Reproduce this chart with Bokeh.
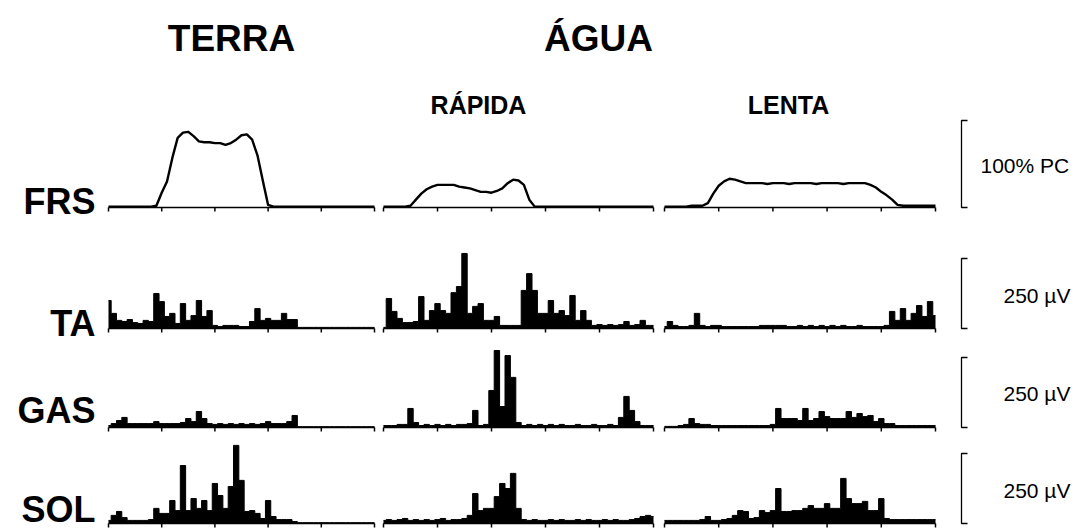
from bokeh.plotting import figure
from bokeh.models import Range1d, Label
from bokeh.embed import file_html
from bokeh.resources import INLINE

# ---------------- data ----------------
conditions = ["TERRA", "RÁPIDA", "LENTA"]
rows = ["FRS", "TA", "GAS", "SOL"]
scale_labels = ["100% PC", "250 µV", "250 µV", "250 µV"]
scale_values = [100, 250, 250, 250]          # height of each calibration bar (row units)
ticks_t = [0, 20, 40, 60, 80, 100]           # % of the trial
sample_t = list(range(0, 101, 2))            # sample times, % of the trial

# foot-switch (FRS), % of pressure at contact
frs_terra = [1, 1, 1, 1, 1, 1, 1, 1, 1,
             2, 17, 30, 57, 80, 86, 87, 82, 76, 75, 75, 74, 74, 72, 74, 78, 83, 84, 78, 60, 31, 3,
             1, 1, 1, 1, 1, 1, 1, 1, 1, 1, 1, 1, 1, 1, 1, 1, 1, 1, 1, 1]
frs_rapida = [1, 1, 1, 1, 1,
              2, 9, 16, 21, 24, 26, 26, 26, 26, 24, 23, 22, 20, 18, 18, 17, 19, 22, 28, 32, 31, 26, 9, 1,
              1, 1, 1, 1, 1, 1, 1, 1, 1, 1, 1, 1, 1, 1, 1, 1, 1, 1, 1, 1, 1, 1]
frs_lenta = [1, 1, 1, 1, 1, 2, 2, 2,
             5, 16, 25, 30, 33, 32, 30, 28,
             28, 28, 28, 27, 28, 28, 28, 27, 28, 28, 28, 28, 27, 28, 28, 28, 28, 27, 28, 28, 28, 28,
             26, 23, 18, 14, 9, 3,
             2, 2, 2, 2, 2, 2, 2]

# EMG envelopes, µV
ta_terra = [100, 54, 29, 25, 32, 21, 18, 29, 25, 125, 96, 43, 54, 18, 89, 29, 46, 100, 43, 64,
            11, 7, 11, 11, 11, 7, 7, 25, 71, 29, 36, 29, 29, 54, 32, 32,
            4, 4, 4, 4, 4, 4, 4, 4, 4, 4, 4, 4, 4, 4, 4]
ta_rapida = [4, 107, 61, 36, 21, 21, 25, 114, 29, 64, 89, 64, 54, 128, 150, 268, 54, 79, 89, 29,
             29, 43, 11, 11, 11, 11, 136, 196, 136, 54, 54, 100, 54, 64, 46, 118, 29, 64, 29, 11,
             14, 11, 14, 11, 14, 25, 11, 14, 29, 11, 11]
ta_lenta = [7, 25, 11, 7, 7, 11, 54, 11, 7, 11, 11, 7, 7, 7, 7, 7, 7, 7, 11, 11,
            11, 11, 11, 7, 7, 11, 7, 11, 7, 11, 7, 11, 7, 11, 7, 7, 11, 7, 7, 7,
            7, 11, 61, 29, 71, 29, 54, 82, 43, 96, 46]
gas_terra = [7, 14, 25, 36, 14, 14, 14, 14, 14, 21, 14, 14, 14, 14, 18, 32, 21, 57, 32, 14,
             11, 14, 11, 14, 11, 14, 11, 14, 11, 14, 21, 14, 14, 14, 21, 43,
             3, 3, 3, 3, 3, 3, 3, 3, 3, 3, 3, 3, 3, 3, 3]
gas_rapida = [7, 7, 7, 11, 11, 68, 18, 7, 11, 7, 11, 7, 11, 7, 11, 11, 14, 61, 7, 11,
              132, 275, 75, 257, 179, 18, 7, 11, 7, 11, 7, 11, 7, 11, 7, 7, 11, 7, 7, 11,
              7, 7, 11, 7, 36, 111, 61, 21, 7, 7, 7]
gas_lenta = [4, 4, 4, 7, 11, 32, 14, 11, 11, 7, 7, 7, 7, 7, 7, 7, 7, 7, 7, 7,
             11, 68, 32, 32, 32, 25, 68, 25, 32, 57, 39, 32, 32, 32, 57, 36, 50, 39, 43, 21,
             32, 14, 14, 7, 7, 7, 7, 7, 7, 7, 7]
sol_terra = [11, 29, 43, 21, 11, 11, 11, 11, 14, 54, 36, 36, 82, 46, 207, 46, 89, 54, 82, 46,
             143, 100, 54, 132, 279, 154, 43, 46, 36, 18, 82, 25, 14, 14, 14, 7,
             3, 3, 3, 3, 3, 3, 3, 3, 3, 3, 3, 3, 3, 3, 3]
sol_rapida = [11, 14, 11, 14, 18, 11, 14, 11, 14, 11, 14, 18, 11, 14, 14,
              18, 29, 107, 46, 54, 54, 96, 143, 125, 179, 54, 14,
              11, 14, 11, 11, 14, 11, 14, 11, 11, 14, 11, 14, 11, 11, 14, 11, 14, 11, 11, 14, 18,
              25, 29, 25]
sol_lenta = [11, 11, 11, 11, 11, 11, 11, 14, 25, 11, 11, 14, 18, 29, 46, 43, 18, 21, 46, 39,
             46, 125, 43, 43, 46, 46, 54, 64, 54, 54, 71, 54, 54, 161, 89, 71, 71, 79, 46, 46,
             89, 18, 14, 14, 14, 14, 14, 14, 14, 14, 14]

traces = [
    [frs_terra, frs_rapida, frs_lenta],
    [ta_terra, ta_rapida, ta_lenta],
    [gas_terra, gas_rapida, gas_lenta],
    [sol_terra, sol_rapida, sol_lenta],
]

# ---------------- layout (pixels) ----------------
W, H = 1092, 529
COL_LEFT = [108, 383, 664]
COL_W = [266, 270, 271]
ROW_BASE = [207, 328, 427, 523]
ROW_K = [0.87, 0.28, 0.28, 0.28]   # px per row unit
TICK_PX = 4
BAR_X = 961
FONT = "Liberation Sans"

p = figure(width=W, height=H, x_range=Range1d(0, W), y_range=Range1d(H, 0),
           output_backend="svg", toolbar_location=None, min_border=0,
           x_axis_location=None, y_axis_location=None)
p.grid.grid_line_color = None
p.outline_line_color = None
p.background_fill_color = "white"
p.border_fill_color = "white"

for c in range(3):
    L, w = COL_LEFT[c], COL_W[c]
    p.extra_x_ranges[f"c{c}"] = Range1d(-L * 100 / w, (W - L) * 100 / w)
for r in range(4):
    B, k = ROW_BASE[r], ROW_K[r]
    p.extra_y_ranges[f"r{r}"] = Range1d((B - H) / k, B / k)

for r in range(4):
    k = ROW_K[r]
    for c in range(3):
        xr, yr = f"c{c}", f"r{r}"
        vals = traces[r][c]
        # baseline and ticks
        p.segment(x0=[0], y0=[0], x1=[100], y1=[0], line_color="black", line_width=1.5,
                  x_range_name=xr, y_range_name=yr)
        p.segment(x0=ticks_t, y0=[0] * len(ticks_t), x1=ticks_t, y1=[-TICK_PX / k] * len(ticks_t),
                  line_color="black", line_width=1.5, x_range_name=xr, y_range_name=yr)
        if r == 0:
            p.line(sample_t, vals, line_color="black", line_width=2.4, line_join="round",
                   x_range_name=xr, y_range_name=yr)
        else:
            p.varea_step(x=sample_t, y1=[0] * len(vals), y2=vals, step_mode="center",
                         fill_color="black", x_range_name=xr, y_range_name=yr)
            p.step(sample_t, vals, mode="center", line_color="black", line_width=1.0,
                   x_range_name=xr, y_range_name=yr)
    # calibration bracket
    top = scale_values[r]
    p.line([BAR_X + 6, BAR_X, BAR_X, BAR_X + 6], [top, top, 0, 0], line_color="black",
           line_width=1.3, y_range_name=f"r{r}")

def add_text(x, y, txt, size, bold=True, align="left"):
    p.add_layout(Label(x=x, y=y, text=txt, text_font=FONT, text_font_size=f"{size}px",
                       text_font_style="bold" if bold else "normal", text_color="black",
                       text_align=align, text_baseline="alphabetic"))

# titles (y = visual centre of the capitals)
add_text(231, 38, conditions[0], 37, align="center")
add_text(598, 38, "ÁGUA", 37, align="center")
add_text(478, 104, conditions[1], 25, align="center")
add_text(788, 104, conditions[2], 25, align="center")

# row labels
row_label_y = [201, 323, 410, 509]
for r in range(4):
    add_text(95, row_label_y[r], rows[r], 36, align="right")

# scale labels
scale_label_pos = [(980, 165), (1003, 295), (1003, 393), (1003, 490)]
for r in range(4):
    add_text(scale_label_pos[r][0], scale_label_pos[r][1], scale_labels[r], 21, bold=False)

open("out.html", "w").write(file_html(p, INLINE))
